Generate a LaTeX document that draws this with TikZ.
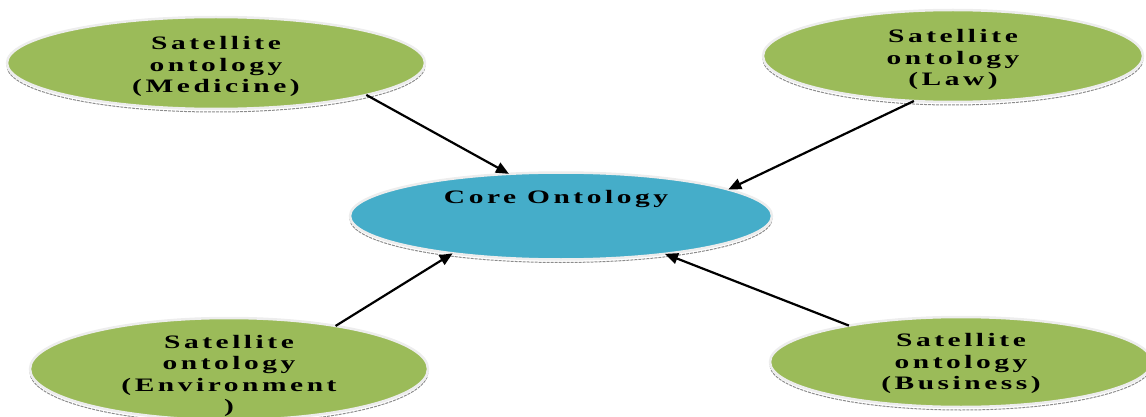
\documentclass[tikz,border=0pt]{standalone}
\usepackage{fontspec}
\usepackage{graphicx}
\newfontfamily\lab{Liberation Serif Bold}[LetterSpace=12]
\newcommand\widetxt[1]{\scalebox{1.55}[1]{\begin{tabular}{@{}c@{}}#1\end{tabular}}}
\usetikzlibrary{shapes.geometric,arrows.meta}
\definecolor{satgreen}{HTML}{9BBB59}
\definecolor{coreblue}{HTML}{45ADC9}
\definecolor{rimgray}{HTML}{EDEDED}
\tikzset{
  blob/.style={ellipse, draw=rimgray, line width=2.5pt, inner sep=0pt, outer sep=0pt,
    preaction={draw=black!45, line width=1pt, dash pattern=on 3pt off 1pt, transform canvas={yshift=-3pt}}},
  sat/.style={blob, fill=satgreen},
  core/.style={blob, fill=coreblue},
  txt/.style={font=\lab\fontsize{19}{21.5}\selectfont, text=black, inner sep=0pt},
  link/.style={line width=2.2pt, -{Triangle[length=13pt,width=11pt]}}
}
\begin{document}
\begin{tikzpicture}[x=1pt,y=-1pt]
\useasboundingbox (0,0) rectangle (1146,417);
\node[sat, minimum width=418pt, minimum height=92pt] (med) at (216,63) {};
\node[sat, minimum width=380pt, minimum height=92pt] (law) at (953,56) {};
\node[core, minimum width=422pt, minimum height=87pt] (core) at (561,216) {};
\node[sat, minimum width=398pt, minimum height=102pt] (env) at (229,369) {};
\node[sat, minimum width=382pt, minimum height=90pt] (bus) at (961,362) {};
\node[txt] (tmed) at (216,67) {\widetxt{Satellite\\ontology\\(Medicine)}};
\node[txt] (tlaw) at (953,60) {\widetxt{Satellite\\ontology\\(Law)}};
\node[txt] (tcore) at (556,199) {\widetxt{Core Ontology}};
\node[txt] (tenv) at (229,376) {\widetxt{Satellite\\ontology\\(Environment\\)}};
\node[txt] (tbus) at (961,364) {\widetxt{Satellite\\ontology\\(Business)}};
\draw[link] (med.-12) -- (core.141);
\draw[link] (law.229) -- (core.9);
\draw[link] (env.22) -- (core.199);
\draw[link] (bus.162) -- (core.-20);
\end{tikzpicture}
\end{document}
